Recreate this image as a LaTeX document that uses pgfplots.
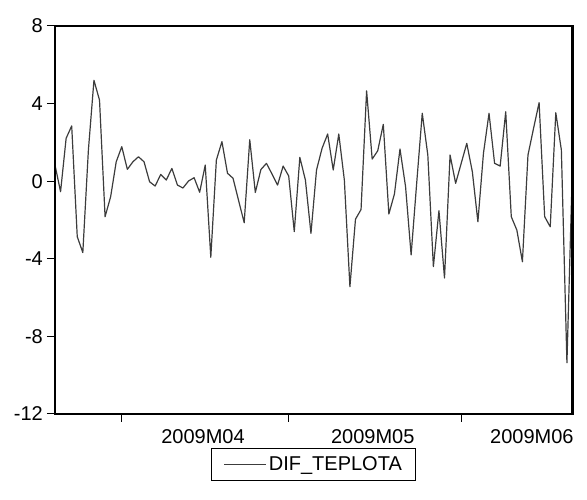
\documentclass[border=0pt]{standalone}
\usepackage{pgfplots}
\pgfplotsset{compat=1.18}
\usepackage{fontspec}
\setmainfont{Liberation Sans}

% daily differences of temperature, 20 Mar - 21 Jun 2009 (index 0..93)
\pgfplotstableread{
t  v
0  0.83
1  -0.54
2  2.21
3  2.85
4  -2.86
5  -3.68
6  1.60
7  5.20
8  4.18
9  -1.83
10 -0.80
11 1.00
12 1.78
13 0.61
14 1.00
15 1.26
16 1.00
17 -0.03
18 -0.25
19 0.35
20 0.06
21 0.66
22 -0.20
23 -0.35
24 0.01
25 0.18
26 -0.57
27 0.83
28 -3.92
29 1.09
30 2.04
31 0.41
32 0.15
33 -1.00
34 -2.14
35 2.14
36 -0.58
37 0.60
38 0.92
39 0.37
40 -0.20
41 0.78
42 0.27
43 -2.60
44 1.23
45 0.06
46 -2.69
47 0.58
48 1.70
49 2.43
50 0.58
51 2.43
52 0.06
53 -5.44
54 -1.96
55 -1.46
56 4.66
57 1.14
58 1.57
59 2.93
60 -1.69
61 -0.66
62 1.66
63 -0.28
64 -3.80
65 -0.10
66 3.50
67 1.35
68 -4.40
69 -1.52
70 -4.99
71 1.35
72 -0.11
73 0.92
74 1.95
75 0.49
76 -2.09
77 1.44
78 3.50
79 0.92
80 0.78
81 3.58
82 -1.83
83 -2.52
84 -4.15
85 1.35
86 2.72
87 4.05
88 -1.83
89 -2.35
90 3.53
91 1.61
92 -9.36
93 0.83
}\difteplota

\definecolor{seriesgray}{HTML}{3C3C3C}

\begin{document}
\begin{tikzpicture}
\path[use as bounding box] (-55pt,-86pt) rectangle (532pt,414pt);
\begin{axis}[
  scale only axis, width=517.5pt, height=388pt,
  at={(0pt,0pt)}, anchor=south west,
  xmin=0, xmax=93, ymin=-12, ymax=8,
  clip=false,
  tick align=outside, tick pos=left,
  major tick length=8pt,
  tick style={black, line width=1pt},
  xtick={12,42,73}, xticklabels={},
  ytick={-12,-8,-4,0,4,8},
  yticklabels={-12,-8,-4,0,4,8},
  yticklabel style={font=\fontsize{20}{24}\selectfont, inner sep=0pt, anchor=east, xshift=-4pt},
  extra x ticks={26.6,57.1,85.7},
  extra x tick labels={2009M04,2009M05,2009M06},
  extra x tick style={major tick length=0pt,
    xticklabel style={font=\fontsize{20}{24}\selectfont, inner sep=0pt, anchor=north, yshift=-15pt}},
  legend style={at={(rel axis cs:0.5,0)}, anchor=north, yshift=-34pt,
    draw=black, line width=0.8pt, font=\fontsize{20}{24}\selectfont,
    inner xsep=12pt, inner ysep=6.5pt},
  legend image code/.code={%
    \draw[black, line width=0.9pt] (0pt,0pt) -- (35pt,0pt);
    \path (0pt,0pt) -- (42pt,0pt);},
]
\addplot[seriesgray, line width=1.2pt, line join=round] table[x=t, y=v] {\difteplota};
\addlegendentry{DIF\_TEPLOTA}
\draw[black, line width=2.2pt] (rel axis cs:0,0) rectangle (rel axis cs:1,1);
\end{axis}
\end{tikzpicture}
\end{document}
